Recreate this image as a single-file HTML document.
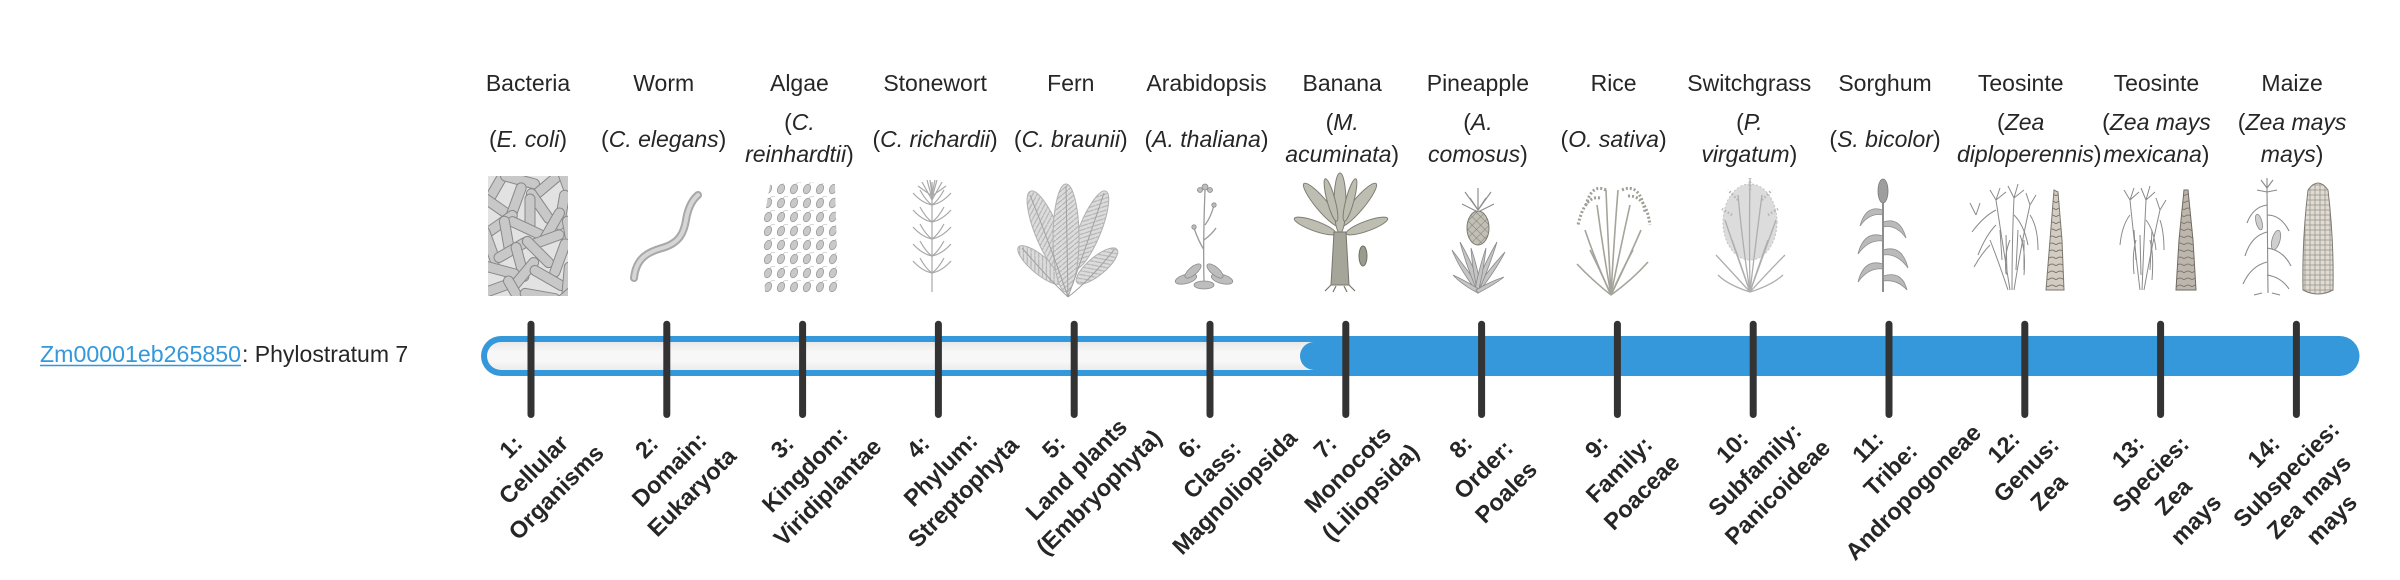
<!DOCTYPE html>
<html>
<head>
<meta charset="utf-8">
<style>
html,body{margin:0;padding:0;background:#fff;width:2400px;height:580px;overflow:hidden}
svg{display:block}
</style>
</head>
<body>
<svg width="2400" height="580" viewBox="0 0 2400 580" xmlns="http://www.w3.org/2000/svg" font-family="'Liberation Sans', sans-serif">
<defs>
  <linearGradient id="inner" x1="0" y1="0" x2="0" y2="1">
    <stop offset="0" stop-color="#e9e9e9"/>
    <stop offset="0.35" stop-color="#f7f7f7"/>
    <stop offset="0.7" stop-color="#f7f7f7"/>
    <stop offset="1" stop-color="#ececec"/>
  </linearGradient>
  <clipPath id="cb"><rect x="488" y="176" width="80" height="120"/></clipPath>
  <pattern id="pa" width="13" height="14" patternUnits="userSpaceOnUse" x="762" y="182">
    <ellipse cx="6" cy="7" rx="3.3" ry="5" fill="#c9c9c9" stroke="#9a9a9a" stroke-width=".8" transform="rotate(25 6 7)"/>
    <path d="M8,2 q3,-3 5,-1" stroke="#bbb" fill="none" stroke-width=".6"/>
  </pattern>
  <pattern id="kern" width="5" height="5" patternUnits="userSpaceOnUse">
    <rect x="0" y="0" width="5" height="5" fill="#e0dcd4" stroke="#9a968e" stroke-width=".8"/>
  </pattern>
  <pattern id="hatch" width="6" height="6" patternUnits="userSpaceOnUse" patternTransform="rotate(45)">
    <rect width="6" height="6" fill="#c2c0b6"/>
    <path d="M0,0 L0,6 M0,0 L6,0" stroke="#848277" stroke-width="1"/>
  </pattern>
  <pattern id="cobp" width="8" height="7" patternUnits="userSpaceOnUse">
    <rect width="8" height="7" fill="#d2ccc2"/>
    <path d="M0,7 Q4,3 8,7" stroke="#7c776f" fill="none" stroke-width="1"/>
  </pattern>
  <pattern id="fernp" width="6" height="5" patternUnits="userSpaceOnUse">
    <rect width="6" height="5" fill="#dcdcdc"/>
    <path d="M0,5 L6,0" stroke="#b4b4b4" stroke-width="1.2"/>
  </pattern>
</defs>

<!-- Top common names -->
<g font-size="23" fill="#262626" text-anchor="middle">
  <text x="528" y="91">Bacteria</text>
  <text x="663.7" y="91">Worm</text>
  <text x="799.4" y="91">Algae</text>
  <text x="935.1" y="91">Stonewort</text>
  <text x="1070.8" y="91">Fern</text>
  <text x="1206.5" y="91">Arabidopsis</text>
  <text x="1342.2" y="91">Banana</text>
  <text x="1477.9" y="91">Pineapple</text>
  <text x="1613.6" y="91">Rice</text>
  <text x="1749.3" y="91">Switchgrass</text>
  <text x="1885" y="91">Sorghum</text>
  <text x="2020.7" y="91">Teosinte</text>
  <text x="2156.4" y="91">Teosinte</text>
  <text x="2292.1" y="91">Maize</text>
</g>

<!-- Species -->
<g font-size="23" fill="#262626" text-anchor="middle">
  <text x="528" y="147">(<tspan font-style="italic">E. coli</tspan>)</text>
  <text x="663.7" y="147">(<tspan font-style="italic">C. elegans</tspan>)</text>
  <text x="799.4" y="130">(<tspan font-style="italic">C.</tspan></text>
  <text x="799.4" y="162"><tspan font-style="italic">reinhardtii</tspan>)</text>
  <text x="935.1" y="147">(<tspan font-style="italic">C. richardii</tspan>)</text>
  <text x="1070.8" y="147">(<tspan font-style="italic">C. braunii</tspan>)</text>
  <text x="1206.5" y="147">(<tspan font-style="italic">A. thaliana</tspan>)</text>
  <text x="1342.2" y="130">(<tspan font-style="italic">M.</tspan></text>
  <text x="1342.2" y="162"><tspan font-style="italic">acuminata</tspan>)</text>
  <text x="1477.9" y="130">(<tspan font-style="italic">A.</tspan></text>
  <text x="1477.9" y="162"><tspan font-style="italic">comosus</tspan>)</text>
  <text x="1613.6" y="147">(<tspan font-style="italic">O. sativa</tspan>)</text>
  <text x="1749.3" y="130">(<tspan font-style="italic">P.</tspan></text>
  <text x="1749.3" y="162"><tspan font-style="italic">virgatum</tspan>)</text>
  <text x="1885" y="147">(<tspan font-style="italic">S. bicolor</tspan>)</text>
  <text x="2020.7" y="130">(<tspan font-style="italic">Zea</tspan></text>
  <text x="1957" y="162" text-anchor="start"><tspan font-style="italic">diploperennis</tspan>)</text>
  <text x="2156.4" y="130">(<tspan font-style="italic">Zea mays</tspan></text>
  <text x="2156.4" y="162"><tspan font-style="italic">mexicana</tspan>)</text>
  <text x="2292.1" y="130">(<tspan font-style="italic">Zea mays</tspan></text>
  <text x="2292.1" y="162"><tspan font-style="italic">mays</tspan>)</text>
</g>

<!-- 1 Bacteria -->
<g clip-path="url(#cb)">
  <rect x="488" y="176" width="80" height="120" fill="#e2e2e2"/>
  <g fill="#c8c8c8" stroke="#888" stroke-width="1">
    <rect x="-20" y="-5" width="40" height="10" rx="5" transform="translate(498 184) rotate(-60)"/>
    <rect x="-20" y="-5" width="40" height="10" rx="5" transform="translate(520 180) rotate(15)"/>
    <rect x="-20" y="-5" width="40" height="10" rx="5" transform="translate(546 186) rotate(-40)"/>
    <rect x="-20" y="-5" width="40" height="10" rx="5" transform="translate(566 182) rotate(70)"/>
    <rect x="-20" y="-5" width="40" height="10" rx="5" transform="translate(493 204) rotate(35)"/>
    <rect x="-20" y="-5" width="40" height="10" rx="5" transform="translate(516 202) rotate(-70)"/>
    <rect x="-20" y="-5" width="40" height="10" rx="5" transform="translate(540 206) rotate(55)"/>
    <rect x="-20" y="-5" width="40" height="10" rx="5" transform="translate(562 210) rotate(-80)"/>
    <rect x="-20" y="-5" width="40" height="10" rx="5" transform="translate(530 214) rotate(90)"/>
    <rect x="-20" y="-5" width="40" height="10" rx="5" transform="translate(500 224) rotate(-35)"/>
    <rect x="-20" y="-5" width="40" height="10" rx="5" transform="translate(526 228) rotate(25)"/>
    <rect x="-20" y="-5" width="40" height="10" rx="5" transform="translate(552 226) rotate(-60)"/>
    <rect x="-20" y="-5" width="40" height="10" rx="5" transform="translate(570 236) rotate(80)"/>
    <rect x="-20" y="-5" width="40" height="10" rx="5" transform="translate(507 236) rotate(80)"/>
    <rect x="-20" y="-5" width="40" height="10" rx="5" transform="translate(545 240) rotate(-20)"/>
    <rect x="-20" y="-5" width="40" height="10" rx="5" transform="translate(490 246) rotate(70)"/>
    <rect x="-20" y="-5" width="40" height="10" rx="5" transform="translate(512 250) rotate(-30)"/>
    <rect x="-20" y="-5" width="40" height="10" rx="5" transform="translate(538 252) rotate(45)"/>
    <rect x="-20" y="-5" width="40" height="10" rx="5" transform="translate(560 258) rotate(-70)"/>
    <rect x="-20" y="-5" width="40" height="10" rx="5" transform="translate(520 262) rotate(75)"/>
    <rect x="-20" y="-5" width="40" height="10" rx="5" transform="translate(500 270) rotate(15)"/>
    <rect x="-20" y="-5" width="40" height="10" rx="5" transform="translate(524 274) rotate(-50)"/>
    <rect x="-20" y="-5" width="40" height="10" rx="5" transform="translate(548 278) rotate(30)"/>
    <rect x="-20" y="-5" width="40" height="10" rx="5" transform="translate(568 282) rotate(-85)"/>
    <rect x="-20" y="-5" width="40" height="10" rx="5" transform="translate(492 290) rotate(-20)"/>
    <rect x="-20" y="-5" width="40" height="10" rx="5" transform="translate(516 294) rotate(60)"/>
    <rect x="-20" y="-5" width="40" height="10" rx="5" transform="translate(540 296) rotate(10)"/>
    <rect x="-20" y="-5" width="40" height="10" rx="5" transform="translate(562 300) rotate(-40)"/>
  </g>
</g>

<!-- 2 Worm -->
<path d="M634,278 C636,258 648,252 662,248 C680,243 684,232 686,220 C688,208 692,200 698,195" fill="none" stroke="#a8a8a8" stroke-width="8" stroke-linecap="round"/>
<path d="M634,278 C636,258 648,252 662,248 C680,243 684,232 686,220 C688,208 692,200 698,195" fill="none" stroke="#d6d6d6" stroke-width="4" stroke-linecap="round"/>

<!-- 3 Algae -->
<path d="M770,185 Q800,180 835,184 L838,292 Q800,296 765,292 L762,230 Z" fill="url(#pa)"/>

<!-- 4 Stonewort -->
<g stroke="#a8a8a8" stroke-width="1.2" fill="none">
  <path d="M932,292 L932,182"/>
  <path d="M932,205 q-10,-2 -19,-12 M932,205 q10,-2 19,-12 M932,205 q-6,-4 -12,-15 M932,205 q6,-4 12,-15"/>
  <path d="M932,222 q-10,-2 -19,-12 M932,222 q10,-2 19,-12 M932,222 q-6,-4 -12,-15 M932,222 q6,-4 12,-15"/>
  <path d="M932,239 q-10,-2 -19,-12 M932,239 q10,-2 19,-12 M932,239 q-6,-4 -12,-15 M932,239 q6,-4 12,-15"/>
  <path d="M932,256 q-10,-2 -19,-12 M932,256 q10,-2 19,-12 M932,256 q-6,-4 -12,-15 M932,256 q6,-4 12,-15"/>
  <path d="M932,273 q-10,-2 -19,-12 M932,273 q10,-2 19,-12 M932,273 q-6,-4 -12,-15 M932,273 q6,-4 12,-15"/>
  <path d="M932,200 l-10,-18 M932,200 l10,-18 M932,198 l-5,-18 M932,198 l5,-18 M932,196 l-14,-10 M932,196 l14,-10 M932,194 l-2,-14 M932,194 l3,-14"/>
</g>

<!-- 5 Fern -->
<g fill="url(#fernp)" stroke="#b0b0b0" stroke-width="1">
  <ellipse cx="1040" cy="265" rx="9" ry="28" transform="rotate(-50 1040 265)"/>
  <ellipse cx="1097" cy="266" rx="9" ry="26" transform="rotate(50 1097 266)"/>
  <ellipse cx="1047" cy="232" rx="12" ry="44" transform="rotate(-22 1047 232)"/>
  <ellipse cx="1090" cy="230" rx="11" ry="42" transform="rotate(22 1090 230)"/>
  <ellipse cx="1066" cy="238" rx="13" ry="54"/>
</g>
<g stroke="#a0a0a0" stroke-width="1" fill="none">
  <path d="M1068,297 L1066,186 M1068,297 Q1052,250 1030,195 M1068,297 Q1085,250 1104,193 M1068,297 Q1050,280 1022,248 M1068,297 Q1088,282 1114,250"/>
</g>

<!-- 6 Arabidopsis -->
<g stroke="#9a9a9a" stroke-width="1.3" fill="none">
  <path d="M1204,282 Q1203,240 1205,190 M1204,250 q-6,-10 -10,-22 M1205,225 q6,-8 9,-20 M1204,240 q8,-6 12,-12"/>
</g>
<g fill="#bdbdbd" stroke="#8a8a8a" stroke-width="0.8">
  <circle cx="1205" cy="187" r="3"/><circle cx="1200" cy="190" r="2.5"/><circle cx="1210" cy="190" r="2.5"/>
  <circle cx="1194" cy="227" r="2.2"/><circle cx="1214" cy="205" r="2.2"/>
  <ellipse cx="1186" cy="279" rx="11" ry="4.5" transform="rotate(-15 1186 279)"/>
  <ellipse cx="1222" cy="279" rx="11" ry="4.5" transform="rotate(15 1222 279)"/>
  <ellipse cx="1193" cy="271" rx="10" ry="4" transform="rotate(-40 1193 271)"/>
  <ellipse cx="1215" cy="271" rx="10" ry="4" transform="rotate(40 1215 271)"/>
  <ellipse cx="1204" cy="285" rx="10" ry="4"/>
</g>

<!-- 7 Banana -->
<g fill="#bebdb1" stroke="#7e7d72" stroke-width="1">
  <ellipse cx="1315" cy="226" rx="5" ry="22" transform="rotate(-70 1315 226)"/>
  <ellipse cx="1367" cy="226" rx="5" ry="22" transform="rotate(70 1367 226)"/>
  <ellipse cx="1322" cy="205" rx="6" ry="28" transform="rotate(-40 1322 205)"/>
  <ellipse cx="1358" cy="205" rx="6" ry="28" transform="rotate(40 1358 205)"/>
  <ellipse cx="1340" cy="203" rx="6" ry="30"/>
  <ellipse cx="1331" cy="200" rx="4" ry="22" transform="rotate(-15 1331 200)"/>
  <ellipse cx="1350" cy="200" rx="4" ry="22" transform="rotate(15 1350 200)"/>
</g>
<path d="M1334,232 L1346,232 L1349,285 L1331,285 Z" fill="#a6a599" stroke="#77766a" stroke-width="1"/>
<ellipse cx="1363" cy="256" rx="4" ry="10" fill="#9b9a8e" stroke="#6f6e63" stroke-width="1"/>
<path d="M1331,285 l-6,6 M1336,286 l-3,6 M1344,286 l3,6 M1349,285 l6,6" stroke="#77766a" stroke-width="1.2"/>

<!-- 8 Pineapple -->
<g stroke="#8f8f8f" stroke-width="1.2" fill="none">
  <path d="M1478,210 l-13,-18 M1478,210 l0,-22 M1478,210 l13,-18 M1478,210 l-8,-12 M1478,210 l8,-12 M1478,212 l-16,-8 M1478,212 l16,-8"/>
</g>
<ellipse cx="1478" cy="228" rx="11" ry="17" fill="url(#hatch)" stroke="#7d7b70" stroke-width="1"/>
<g fill="#c4c4c4" stroke="#8a8a8a" stroke-width="0.8">
  <path d="M1478,293 Q1460,270 1452,250 Q1466,268 1480,288 Z"/>
  <path d="M1478,293 Q1496,270 1505,252 Q1490,268 1476,288 Z"/>
  <path d="M1478,293 Q1466,265 1460,242 Q1472,262 1481,288 Z"/>
  <path d="M1478,293 Q1490,265 1497,242 Q1485,262 1475,288 Z"/>
  <path d="M1478,293 Q1472,268 1471,248 Q1478,268 1481,290 Z"/>
  <path d="M1478,293 Q1484,268 1486,248 Q1479,268 1475,290 Z"/>
  <path d="M1478,293 Q1462,285 1453,275 Q1468,282 1480,290 Z"/>
  <path d="M1478,293 Q1494,285 1504,277 Q1489,282 1476,290 Z"/>
</g>

<!-- 9 Rice -->
<g stroke="#a5a49b" stroke-width="1.6" fill="none">
  <path d="M1611,295 Q1592,280 1577,264"/>
  <path d="M1611,295 Q1595,260 1585,230"/>
  <path d="M1611,295 Q1603,250 1597,205"/>
  <path d="M1611,295 Q1608,240 1606,190"/>
  <path d="M1611,295 Q1614,240 1618,190"/>
  <path d="M1611,295 Q1620,250 1630,205"/>
  <path d="M1611,295 Q1628,260 1641,230"/>
  <path d="M1611,295 Q1632,280 1648,262"/>
  <path d="M1611,295 Q1600,270 1590,250"/>
  <path d="M1611,295 Q1622,270 1633,250"/>
</g>
<g stroke="#a09f95" stroke-width="3" fill="none" stroke-dasharray="2 2">
  <path d="M1600,198 Q1585,195 1578,225"/>
  <path d="M1606,190 Q1592,183 1586,205"/>
  <path d="M1622,190 Q1640,182 1645,212"/>
  <path d="M1628,196 Q1646,195 1650,225"/>
</g>

<!-- 10 Switchgrass -->
<ellipse cx="1750" cy="222" rx="27" ry="38" fill="#dcdcdc" stroke="#c2c2c2" stroke-width="1" stroke-dasharray="2 2"/>
<g stroke="#aeaeae" stroke-width="1.3" fill="none">
  <path d="M1750,292 Q1730,270 1716,255"/>
  <path d="M1750,292 Q1735,250 1725,220"/>
  <path d="M1750,292 Q1742,240 1738,195"/>
  <path d="M1750,292 Q1749,230 1750,180"/>
  <path d="M1750,292 Q1756,240 1762,195"/>
  <path d="M1750,292 Q1765,250 1776,220"/>
  <path d="M1750,292 Q1770,270 1785,255"/>
  <path d="M1750,292 Q1728,285 1718,275"/>
  <path d="M1750,292 Q1772,285 1783,275"/>
  <path d="M1750,292 Q1740,262 1732,240"/>
  <path d="M1750,292 Q1760,262 1768,240"/>
</g>
<g stroke="#b5b5b5" stroke-width="2.5" fill="none" stroke-dasharray="1.5 2">
  <path d="M1738,200 l-10,-10 M1750,190 l0,-12 M1762,200 l10,-10 M1732,215 l-10,-6 M1768,215 l10,-6"/>
</g>

<!-- 11 Sorghum -->
<g fill="#bababa" stroke="#8e8e8e" stroke-width="0.8">
  <path d="M1883,210 Q1866,204 1860,226 Q1870,212 1883,215 Z"/>
  <path d="M1883,222 Q1900,216 1906,238 Q1896,224 1883,227 Z"/>
  <path d="M1883,236 Q1864,230 1858,254 Q1869,239 1883,241 Z"/>
  <path d="M1883,250 Q1902,244 1908,268 Q1897,253 1883,255 Z"/>
  <path d="M1883,264 Q1864,258 1858,282 Q1869,267 1883,269 Z"/>
  <path d="M1883,276 Q1902,270 1907,290 Q1897,279 1883,281 Z"/>
</g>
<path d="M1883,292 L1883,196" stroke="#8e8e8e" stroke-width="2"/>
<ellipse cx="1883" cy="191" rx="5" ry="12" fill="#9e9e9e" stroke="#7a7a7a" stroke-width="0.8"/>

<!-- 12 Teosinte 1 -->
<g stroke="#8a8a8a" stroke-width="1" fill="none">
  <path d="M2010,290 Q2002,240 1996,200 M2012,290 Q2012,240 2014,198 M2014,290 Q2022,240 2030,205 M2008,290 Q1998,260 1990,240"/>
  <path d="M1996,210 q-12,6 -24,22 M1996,225 q-10,10 -18,30 M2014,215 q10,10 14,30 M2030,215 q8,12 8,35 M2010,240 q-6,14 -4,34 M2020,235 q6,15 4,40 M1990,245 q-8,8 -16,22"/>
  <path d="M1996,200 l-6,-10 M1996,200 l4,-12 M1996,200 l10,-8 M2014,198 l-6,-12 M2014,198 l4,-14 M2014,198 l10,-8 M2030,205 l-4,-12 M2030,205 l6,-10 M1976,215 l-6,-12 M1976,215 l4,-12"/>
  <path d="M2000,230 l2,30 M2006,235 l1,40 M2018,230 l-2,40 M2024,240 l0,30"/>
</g>
<path d="M2046,290 L2064,290 L2062,240 L2058,192 L2054,190 L2050,240 Z" fill="url(#cobp)" stroke="#7c776f" stroke-width="1"/>

<!-- 13 Teosinte 2 -->
<g stroke="#8a8a8a" stroke-width="1" fill="none">
  <path d="M2140,290 Q2134,240 2130,200 M2142,290 Q2144,240 2146,200 M2144,290 Q2152,245 2160,210"/>
  <path d="M2130,215 q-8,10 -10,30 M2146,220 q8,10 10,30 M2160,220 q4,12 4,30 M2136,240 q-4,14 -2,34 M2150,240 q4,15 2,40"/>
  <path d="M2130,200 l-6,-10 M2130,200 l4,-12 M2130,200 l9,-8 M2146,200 l-5,-12 M2146,200 l4,-14 M2146,200 l9,-8 M2160,210 l-4,-12 M2160,210 l6,-10"/>
  <path d="M2134,230 l2,30 M2140,235 l1,40 M2152,230 l-2,40"/>
</g>
<path d="M2176,290 L2196,290 L2193,240 L2188,190 L2184,190 L2179,240 Z" fill="url(#cobp)" stroke="#6a655e" stroke-width="1"/>
<path d="M2176,290 L2196,290 L2193,240 L2188,190 L2184,190 L2179,240 Z" fill="#8a857c" fill-opacity="0.3"/>

<!-- 14 Maize -->
<g stroke="#8a8a8a" stroke-width="1.1" fill="none">
  <path d="M2268,293 L2267,188"/>
  <path d="M2267,188 l-6,-8 M2267,188 l0,-10 M2267,188 l6,-8 M2267,192 l-10,-2 M2267,192 l10,-2"/>
  <path d="M2267,205 q-14,2 -20,18 M2267,215 q14,0 22,16 M2267,232 q-16,4 -22,24 M2267,248 q16,2 24,18 M2267,262 q-16,4 -24,22 M2267,275 q14,2 22,14"/>
  <path d="M2262,293 l-8,2 M2272,293 l8,2"/>
</g>
<g fill="#cfcfcf" stroke="#8a8a8a" stroke-width="0.8">
  <ellipse cx="2276" cy="240" rx="4" ry="10" transform="rotate(15 2276 240)"/>
  <ellipse cx="2259" cy="222" rx="3" ry="8" transform="rotate(-15 2259 222)"/>
</g>
<path d="M2303,290 Q2302,240 2308,190 Q2318,176 2328,190 Q2334,240 2333,290 Q2318,298 2303,290 Z" fill="url(#kern)" stroke="#7e7a72" stroke-width="1"/>

<!-- Left label -->
<g font-size="23">
  <text x="40" y="362" fill="#3498db" textLength="201" lengthAdjust="spacingAndGlyphs">Zm00001eb265850</text>
  <line x1="40" y1="365.5" x2="241" y2="365.5" stroke="#3498db" stroke-width="1.6"/>
  <text x="242" y="362" fill="#262626">: Phylostratum 7</text>
</g>

<!-- Bar -->
<rect x="481" y="336" width="1878.5" height="40" rx="20" fill="#3498db"/>
<rect x="487" y="342" width="900" height="28" rx="14" fill="url(#inner)"/>
<rect x="1300" y="342" width="1053.5" height="28" rx="14" fill="#3498db"/>

<!-- Ticks -->
<g stroke="#333" stroke-width="7" stroke-linecap="round">
  <line x1="531" y1="324.2" x2="531" y2="414.5"/>
  <line x1="666.8" y1="324.2" x2="666.8" y2="414.5"/>
  <line x1="802.6" y1="324.2" x2="802.6" y2="414.5"/>
  <line x1="938.4" y1="324.2" x2="938.4" y2="414.5"/>
  <line x1="1074.2" y1="324.2" x2="1074.2" y2="414.5"/>
  <line x1="1210" y1="324.2" x2="1210" y2="414.5"/>
  <line x1="1345.8" y1="324.2" x2="1345.8" y2="414.5"/>
  <line x1="1481.6" y1="324.2" x2="1481.6" y2="414.5"/>
  <line x1="1617.4" y1="324.2" x2="1617.4" y2="414.5"/>
  <line x1="1753.2" y1="324.2" x2="1753.2" y2="414.5"/>
  <line x1="1889" y1="324.2" x2="1889" y2="414.5"/>
  <line x1="2024.8" y1="324.2" x2="2024.8" y2="414.5"/>
  <line x1="2160.6" y1="324.2" x2="2160.6" y2="414.5"/>
  <line x1="2296.4" y1="324.2" x2="2296.4" y2="414.5"/>
</g>

<!-- Rotated rank labels -->
<g font-size="23.5" font-weight="bold" fill="#262626" text-anchor="middle">
  <g transform="rotate(-45 533.5 469.5)"><text><tspan x="533.5" y="445.5">1:</tspan><tspan x="533.5" y="477.5">Cellular</tspan><tspan x="533.5" y="509.5">Organisms</tspan></text></g>
  <g transform="rotate(-45 669.2 469.5)"><text><tspan x="669.2" y="445.5">2:</tspan><tspan x="669.2" y="477.5">Domain:</tspan><tspan x="669.2" y="509.5">Eukaryota</tspan></text></g>
  <g transform="rotate(-45 804.9 469.5)"><text><tspan x="804.9" y="445.5">3:</tspan><tspan x="804.9" y="477.5">Kingdom:</tspan><tspan x="804.9" y="509.5">Viridiplantae</tspan></text></g>
  <g transform="rotate(-45 940.6 469.5)"><text><tspan x="940.6" y="445.5">4:</tspan><tspan x="940.6" y="477.5">Phylum:</tspan><tspan x="940.6" y="509.5">Streptophyta</tspan></text></g>
  <g transform="rotate(-45 1076.3 469.5)"><text><tspan x="1076.3" y="445.5">5:</tspan><tspan x="1076.3" y="477.5">Land plants</tspan><tspan x="1076.3" y="509.5">(Embryophyta)</tspan></text></g>
  <g transform="rotate(-45 1212 469.5)"><text><tspan x="1212" y="445.5">6:</tspan><tspan x="1212" y="477.5">Class:</tspan><tspan x="1212" y="509.5">Magnoliopsida</tspan></text></g>
  <g transform="rotate(-45 1347.7 469.5)"><text><tspan x="1347.7" y="445.5">7:</tspan><tspan x="1347.7" y="477.5">Monocots</tspan><tspan x="1347.7" y="509.5">(Liliopsida)</tspan></text></g>
  <g transform="rotate(-45 1483.4 469.5)"><text><tspan x="1483.4" y="445.5">8:</tspan><tspan x="1483.4" y="477.5">Order:</tspan><tspan x="1483.4" y="509.5">Poales</tspan></text></g>
  <g transform="rotate(-45 1619.1 469.5)"><text><tspan x="1619.1" y="445.5">9:</tspan><tspan x="1619.1" y="477.5">Family:</tspan><tspan x="1619.1" y="509.5">Poaceae</tspan></text></g>
  <g transform="rotate(-45 1754.8 469.5)"><text><tspan x="1754.8" y="445.5">10:</tspan><tspan x="1754.8" y="477.5">Subfamily:</tspan><tspan x="1754.8" y="509.5">Panicoideae</tspan></text></g>
  <g transform="rotate(-45 1890.5 469.5)"><text><tspan x="1890.5" y="445.5">11:</tspan><tspan x="1890.5" y="477.5">Tribe:</tspan><tspan x="1890.5" y="509.5">Andropogoneae</tspan></text></g>
  <g transform="rotate(-45 2026.2 469.5)"><text><tspan x="2026.2" y="445.5">12:</tspan><tspan x="2026.2" y="477.5">Genus:</tspan><tspan x="2026.2" y="509.5">Zea</tspan></text></g>
  <g transform="rotate(-45 2161.9 485.5)"><text><tspan x="2161.9" y="445.5">13:</tspan><tspan x="2161.9" y="477.5">Species:</tspan><tspan x="2161.9" y="509.5">Zea</tspan><tspan x="2161.9" y="541.5">mays</tspan></text></g>
  <g transform="rotate(-45 2297.6 485.5)"><text><tspan x="2297.6" y="445.5">14:</tspan><tspan x="2297.6" y="477.5">Subspecies:</tspan><tspan x="2297.6" y="509.5">Zea mays</tspan><tspan x="2297.6" y="541.5">mays</tspan></text></g>
</g>
</svg>
</body>
</html>
